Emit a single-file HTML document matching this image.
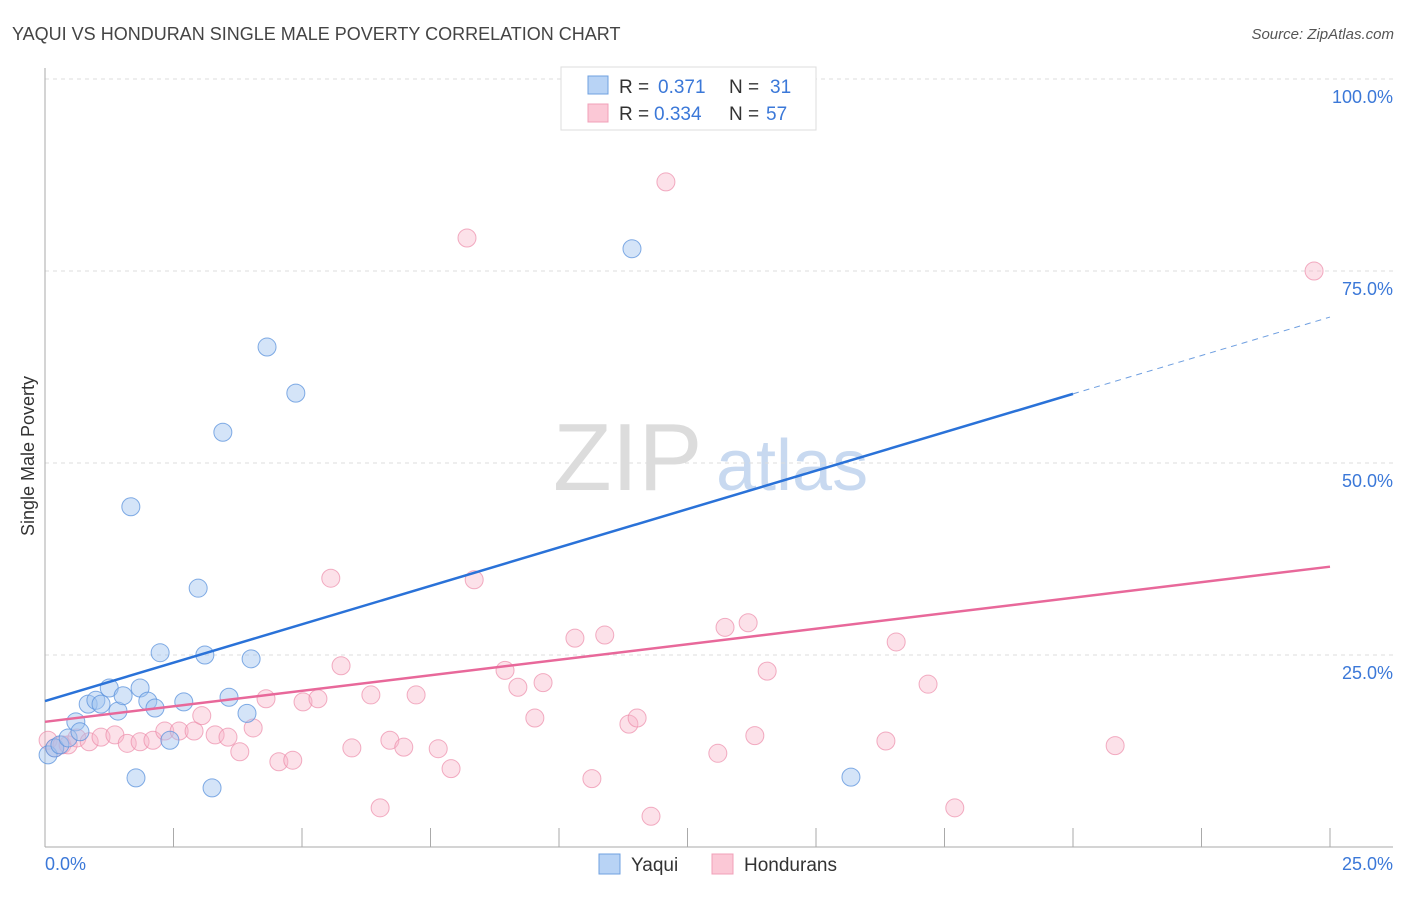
<!DOCTYPE html>
<html><head><meta charset="utf-8"><style>
body{margin:0;background:#fff;font-family:"Liberation Sans",sans-serif;}
svg text{font-family:"Liberation Sans",sans-serif;}
</style></head><body>
<svg id="chart" width="1406" height="892" xmlns="http://www.w3.org/2000/svg">
<text x="12" y="40" font-size="18" fill="#444">YAQUI VS HONDURAN SINGLE MALE POVERTY CORRELATION CHART</text>
<text x="1394" y="39" font-size="15" fill="#555" font-style="italic" text-anchor="end">Source: ZipAtlas.com</text>
<g>
<text x="553" y="490" font-size="96" fill="#dcdcdc" font-family="Liberation Serif,serif">ZIP</text>
<text x="716" y="490" font-size="72" fill="#c8d9f0">atlas</text>
</g>
<text transform="translate(34,456) rotate(-90)" font-size="18" fill="#333" text-anchor="middle">Single Male Poverty</text>
<g id="grid"></g>
<g id="axes"></g>
<g id="marks"></g>
<g>
<rect x="561" y="67" width="255" height="63" fill="#fff" stroke="#ddd"/>
<rect x="588" y="76" width="20" height="18" fill="#b8d3f5" stroke="#6fa0e0"/>
<rect x="588" y="104" width="20" height="18" fill="#fbc8d6" stroke="#f0a0b8"/>
<text x="619" y="93" font-size="19" fill="#333">R = </text><text x="658" y="93" font-size="19" fill="#3b78d8">0.371</text>
<text x="729" y="93" font-size="19" fill="#333">N = </text><text x="770" y="93" font-size="19" fill="#3b78d8">31</text>
<text x="619" y="120" font-size="19" fill="#333">R = </text><text x="654" y="120" font-size="19" fill="#3b78d8">0.334</text>
<text x="729" y="120" font-size="19" fill="#333">N = </text><text x="766" y="120" font-size="19" fill="#3b78d8">57</text>
</g>
<g>
<rect x="599" y="854" width="21" height="20" fill="#b8d3f5" stroke="#6fa0e0"/>
<text x="631" y="871" font-size="19" fill="#333">Yaqui</text>
<rect x="712" y="854" width="21" height="20" fill="#fbc8d6" stroke="#f0a0b8"/>
<text x="744" y="871" font-size="19" fill="#333">Hondurans</text>
</g>
</svg>
<script>
const blueX=[0.06,0.19,0.29,0.45,0.60,0.68,0.84,0.99,1.09,1.25,1.42,1.52,1.67,1.77,1.85,2.00,2.14,2.24,2.43,2.70,2.98,3.11,3.25,3.46,3.58,3.93,4.01,4.32,4.88,11.42,15.68];
const blueY=[12.0,12.9,13.3,14.2,16.3,15.0,18.6,19.1,18.6,20.7,17.7,19.7,44.3,9.0,20.7,19.0,18.1,25.3,13.9,18.9,33.7,25.0,7.7,54.0,19.5,17.4,24.5,65.1,59.1,77.9,9.1];
const pinkX=[0.06,0.19,0.33,0.45,0.62,0.86,1.09,1.36,1.60,1.85,2.10,2.33,2.61,2.90,3.05,3.31,3.56,3.79,4.05,4.30,4.55,4.82,5.02,5.31,5.56,5.76,5.97,6.34,6.52,6.71,6.98,7.22,7.65,7.90,8.21,8.35,8.95,9.20,9.53,9.69,10.31,10.64,10.89,11.36,11.52,11.79,12.08,13.09,13.23,13.68,13.81,14.05,16.36,16.56,17.18,17.70,20.82,24.69];
const pinkY=[13.9,12.9,13.3,13.3,14.2,13.7,14.3,14.6,13.5,13.7,13.9,15.1,15.1,15.1,17.1,14.6,14.3,12.4,15.5,19.3,11.1,11.3,18.9,19.3,35.0,23.6,12.9,19.8,5.1,13.9,13.0,19.8,12.8,10.2,79.3,34.8,23.0,20.8,16.8,21.4,27.2,8.9,27.6,16.0,16.8,4.0,86.6,12.2,28.6,29.2,14.5,22.9,13.8,26.7,21.2,5.1,13.2,75.0];
const blueTrend=[19.0,59.0,69.0];
const pinkTrend=[16.3,36.5];
const yTicks=[25,50,75,100];
const yTickLabels=["25.0%","50.0%","75.0%","100.0%"];
const xTicks=[2.5,5,7.5,10,12.5,15,17.5,20,22.5,25];

const NS="http://www.w3.org/2000/svg";
const sx=v=>45+v*51.4;
const sy=v=>847-v*7.68;
function mk(tag,attrs,parent){const e=document.createElementNS(NS,tag);for(const k in attrs)e.setAttribute(k,attrs[k]);document.getElementById(parent).appendChild(e);return e;}
yTicks.forEach((t,i)=>{
 const g=mk('line',{x1:45,x2:1393,y1:sy(t),y2:sy(t),stroke:'#ddd','stroke-dasharray':'4,4'},'grid');
 
 
 const l=mk('text',{x:1393,y:sy(t)+24,'font-size':18,fill:'#3b78d8','text-anchor':'end'},'axes');
 l.textContent=yTickLabels[i];
 
 
});
const ya=mk('line',{x1:45,x2:45,y1:68,y2:847,stroke:'#aaa'},'axes');


const xa=mk('line',{x1:45,x2:1393,y1:847,y2:847,stroke:'#aaa'},'axes');


xTicks.forEach(t=>{
 const tk=mk('line',{x1:sx(t),x2:sx(t),y1:828,y2:847,stroke:'#aaa'},'axes');
 
 
});
const x0=mk('text',{x:45,y:870,'font-size':18,fill:'#3b78d8'},'axes');x0.textContent='0.0%';


const x1=mk('text',{x:1393,y:870,'font-size':18,fill:'#3b78d8','text-anchor':'end'},'axes');x1.textContent='25.0%';



pinkX.forEach((x,i)=>{
 const c=mk('circle',{cx:sx(x),cy:sy(pinkY[i]),r:9,fill:'rgba(248,180,200,0.4)',stroke:'rgba(236,140,170,0.7)','stroke-width':1},'marks');
 
 
});
blueX.forEach((x,i)=>{
 const c=mk('circle',{cx:sx(x),cy:sy(blueY[i]),r:9,fill:'rgba(160,196,240,0.45)',stroke:'rgba(90,145,220,0.75)','stroke-width':1},'marks');
 
 
});
const bt=mk('line',{x1:sx(0),y1:sy(blueTrend[0]),x2:sx(20),y2:sy(blueTrend[1]),stroke:'#2a72d8','stroke-width':2.5},'marks');


const bd=mk('line',{x1:sx(20),y1:sy(blueTrend[1]),x2:sx(25),y2:sy(blueTrend[2]),stroke:'#6f9fe0','stroke-width':1,'stroke-dasharray':'6,5'},'marks');


const pt=mk('line',{x1:sx(0),y1:sy(pinkTrend[0]),x2:sx(25),y2:sy(pinkTrend[1]),stroke:'#e8689a','stroke-width':2.5},'marks');


</script>
</body></html>
